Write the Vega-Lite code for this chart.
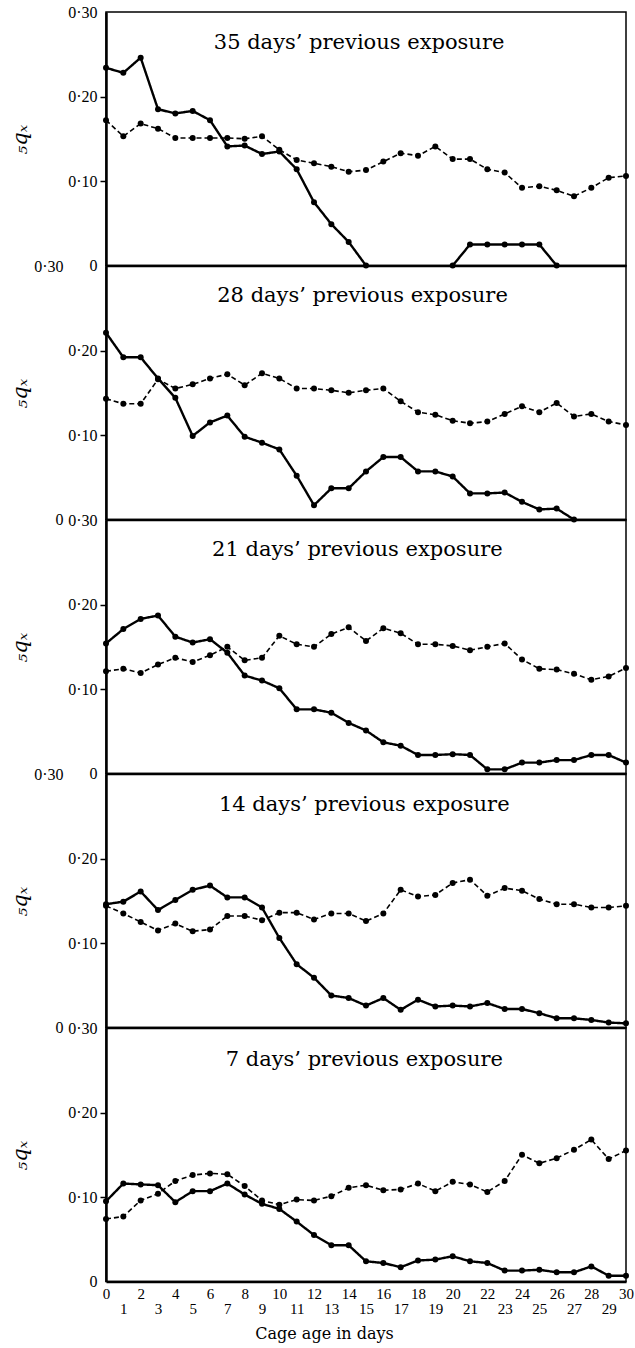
{
  "$schema": "https://vega.github.io/schema/vega-lite/v6.json",
  "background": "white",
  "padding": {"left": 8, "top": 3, "right": 0, "bottom": 0},
  "spacing": 0,
  "bounds": "flush",
  "config": {
    "view": {"stroke": "black", "strokeWidth": 1.5},
    "axisY": {"grid": false, "domainColor": "black", "domainWidth": 2.5, "tickColor": "black", "tickWidth": 1.5, "tickSize": 6, "labelPadding": 3, "labelFont": "Liberation Serif", "labelFontSize": 16, "labelColor": "black", "labelFlush": false, "labelOverlap": false, "labelBound": false, "titleFont": "DejaVu Serif", "titleFontStyle": "italic", "titleFontWeight": "normal", "titleFontSize": 21, "titleColor": "black", "titleX": -76, "titleY": 127},
    "axisX": {"grid": false, "domainColor": "black", "domainWidth": 2, "ticks": false, "labelFont": "Liberation Serif", "labelFontSize": 15, "labelColor": "black", "labelFlush": false, "labelOverlap": false, "labelBound": false, "labelAngle": 0}
  },
  "datasets": {
    "q": [
      {"p":35,"d":0,"solid":0.234,"dashed":0.172},{"p":35,"d":1,"solid":0.228,"dashed":0.153},{"p":35,"d":2,"solid":0.246,"dashed":0.168},{"p":35,"d":3,"solid":0.185,"dashed":0.162},{"p":35,"d":4,"solid":0.180,"dashed":0.151},{"p":35,"d":5,"solid":0.183,"dashed":0.151},{"p":35,"d":6,"solid":0.172,"dashed":0.151},{"p":35,"d":7,"solid":0.141,"dashed":0.151},{"p":35,"d":8,"solid":0.142,"dashed":0.150},{"p":35,"d":9,"solid":0.132,"dashed":0.153},{"p":35,"d":10,"solid":0.135,"dashed":0.137},{"p":35,"d":11,"solid":0.114,"dashed":0.125},{"p":35,"d":12,"solid":0.075,"dashed":0.121},{"p":35,"d":13,"solid":0.049,"dashed":0.117},{"p":35,"d":14,"solid":0.028,"dashed":0.111},{"p":35,"d":15,"solid":0,"dashed":0.113},{"p":35,"d":16,"solid":null,"dashed":0.123},{"p":35,"d":17,"solid":null,"dashed":0.133},{"p":35,"d":18,"solid":null,"dashed":0.130},{"p":35,"d":19,"solid":null,"dashed":0.141},{"p":35,"d":20,"solid":0,"dashed":0.126},{"p":35,"d":21,"solid":0.025,"dashed":0.126},{"p":35,"d":22,"solid":0.025,"dashed":0.114},{"p":35,"d":23,"solid":0.025,"dashed":0.110},{"p":35,"d":24,"solid":0.025,"dashed":0.092},{"p":35,"d":25,"solid":0.025,"dashed":0.094},{"p":35,"d":26,"solid":0,"dashed":0.089},{"p":35,"d":27,"solid":null,"dashed":0.082},{"p":35,"d":28,"solid":null,"dashed":0.092},{"p":35,"d":29,"solid":null,"dashed":0.104},{"p":35,"d":30,"solid":null,"dashed":0.106},
      {"p":28,"d":0,"solid":0.221,"dashed":0.143},{"p":28,"d":1,"solid":0.192,"dashed":0.137},{"p":28,"d":2,"solid":0.192,"dashed":0.137},{"p":28,"d":3,"solid":0.167,"dashed":0.166},{"p":28,"d":4,"solid":0.144,"dashed":0.155},{"p":28,"d":5,"solid":0.099,"dashed":0.160},{"p":28,"d":6,"solid":0.115,"dashed":0.167},{"p":28,"d":7,"solid":0.123,"dashed":0.172},{"p":28,"d":8,"solid":0.098,"dashed":0.159},{"p":28,"d":9,"solid":0.091,"dashed":0.173},{"p":28,"d":10,"solid":0.083,"dashed":0.167},{"p":28,"d":11,"solid":0.052,"dashed":0.155},{"p":28,"d":12,"solid":0.017,"dashed":0.155},{"p":28,"d":13,"solid":0.037,"dashed":0.153},{"p":28,"d":14,"solid":0.037,"dashed":0.150},{"p":28,"d":15,"solid":0.057,"dashed":0.153},{"p":28,"d":16,"solid":0.074,"dashed":0.155},{"p":28,"d":17,"solid":0.074,"dashed":0.140},{"p":28,"d":18,"solid":0.057,"dashed":0.127},{"p":28,"d":19,"solid":0.057,"dashed":0.124},{"p":28,"d":20,"solid":0.051,"dashed":0.117},{"p":28,"d":21,"solid":0.031,"dashed":0.114},{"p":28,"d":22,"solid":0.031,"dashed":0.116},{"p":28,"d":23,"solid":0.032,"dashed":0.125},{"p":28,"d":24,"solid":0.021,"dashed":0.134},{"p":28,"d":25,"solid":0.012,"dashed":0.127},{"p":28,"d":26,"solid":0.013,"dashed":0.138},{"p":28,"d":27,"solid":0,"dashed":0.122},{"p":28,"d":28,"solid":null,"dashed":0.125},{"p":28,"d":29,"solid":null,"dashed":0.116},{"p":28,"d":30,"solid":null,"dashed":0.112},
      {"p":21,"d":0,"solid":0.154,"dashed":0.121},{"p":21,"d":1,"solid":0.171,"dashed":0.124},{"p":21,"d":2,"solid":0.183,"dashed":0.119},{"p":21,"d":3,"solid":0.187,"dashed":0.129},{"p":21,"d":4,"solid":0.162,"dashed":0.137},{"p":21,"d":5,"solid":0.155,"dashed":0.132},{"p":21,"d":6,"solid":0.159,"dashed":0.140},{"p":21,"d":7,"solid":0.143,"dashed":0.150},{"p":21,"d":8,"solid":0.116,"dashed":0.134},{"p":21,"d":9,"solid":0.110,"dashed":0.137},{"p":21,"d":10,"solid":0.101,"dashed":0.163},{"p":21,"d":11,"solid":0.076,"dashed":0.153},{"p":21,"d":12,"solid":0.076,"dashed":0.150},{"p":21,"d":13,"solid":0.072,"dashed":0.165},{"p":21,"d":14,"solid":0.060,"dashed":0.173},{"p":21,"d":15,"solid":0.051,"dashed":0.157},{"p":21,"d":16,"solid":0.037,"dashed":0.172},{"p":21,"d":17,"solid":0.033,"dashed":0.166},{"p":21,"d":18,"solid":0.022,"dashed":0.153},{"p":21,"d":19,"solid":0.022,"dashed":0.153},{"p":21,"d":20,"solid":0.023,"dashed":0.151},{"p":21,"d":21,"solid":0.022,"dashed":0.146},{"p":21,"d":22,"solid":0.005,"dashed":0.150},{"p":21,"d":23,"solid":0.005,"dashed":0.154},{"p":21,"d":24,"solid":0.013,"dashed":0.135},{"p":21,"d":25,"solid":0.013,"dashed":0.124},{"p":21,"d":26,"solid":0.016,"dashed":0.123},{"p":21,"d":27,"solid":0.016,"dashed":0.118},{"p":21,"d":28,"solid":0.022,"dashed":0.111},{"p":21,"d":29,"solid":0.022,"dashed":0.115},{"p":21,"d":30,"solid":0.013,"dashed":0.125},
      {"p":14,"d":0,"solid":0.146,"dashed":0.144},{"p":14,"d":1,"solid":0.149,"dashed":0.135},{"p":14,"d":2,"solid":0.161,"dashed":0.125},{"p":14,"d":3,"solid":0.139,"dashed":0.115},{"p":14,"d":4,"solid":0.151,"dashed":0.123},{"p":14,"d":5,"solid":0.163,"dashed":0.114},{"p":14,"d":6,"solid":0.168,"dashed":0.116},{"p":14,"d":7,"solid":0.154,"dashed":0.132},{"p":14,"d":8,"solid":0.154,"dashed":0.132},{"p":14,"d":9,"solid":0.142,"dashed":0.127},{"p":14,"d":10,"solid":0.106,"dashed":0.136},{"p":14,"d":11,"solid":0.075,"dashed":0.136},{"p":14,"d":12,"solid":0.059,"dashed":0.128},{"p":14,"d":13,"solid":0.038,"dashed":0.135},{"p":14,"d":14,"solid":0.035,"dashed":0.135},{"p":14,"d":15,"solid":0.026,"dashed":0.126},{"p":14,"d":16,"solid":0.035,"dashed":0.135},{"p":14,"d":17,"solid":0.021,"dashed":0.163},{"p":14,"d":18,"solid":0.033,"dashed":0.155},{"p":14,"d":19,"solid":0.025,"dashed":0.157},{"p":14,"d":20,"solid":0.026,"dashed":0.171},{"p":14,"d":21,"solid":0.025,"dashed":0.175},{"p":14,"d":22,"solid":0.029,"dashed":0.156},{"p":14,"d":23,"solid":0.022,"dashed":0.165},{"p":14,"d":24,"solid":0.022,"dashed":0.162},{"p":14,"d":25,"solid":0.017,"dashed":0.152},{"p":14,"d":26,"solid":0.011,"dashed":0.146},{"p":14,"d":27,"solid":0.011,"dashed":0.146},{"p":14,"d":28,"solid":0.009,"dashed":0.142},{"p":14,"d":29,"solid":0.006,"dashed":0.142},{"p":14,"d":30,"solid":0.005,"dashed":0.144},
      {"p":7,"d":0,"solid":0.095,"dashed":0.074},{"p":7,"d":1,"solid":0.116,"dashed":0.077},{"p":7,"d":2,"solid":0.115,"dashed":0.096},{"p":7,"d":3,"solid":0.114,"dashed":0.104},{"p":7,"d":4,"solid":0.094,"dashed":0.119},{"p":7,"d":5,"solid":0.107,"dashed":0.126},{"p":7,"d":6,"solid":0.107,"dashed":0.128},{"p":7,"d":7,"solid":0.116,"dashed":0.127},{"p":7,"d":8,"solid":0.103,"dashed":0.113},{"p":7,"d":9,"solid":0.092,"dashed":0.096},{"p":7,"d":10,"solid":0.086,"dashed":0.091},{"p":7,"d":11,"solid":0.071,"dashed":0.097},{"p":7,"d":12,"solid":0.055,"dashed":0.096},{"p":7,"d":13,"solid":0.043,"dashed":0.101},{"p":7,"d":14,"solid":0.043,"dashed":0.111},{"p":7,"d":15,"solid":0.024,"dashed":0.114},{"p":7,"d":16,"solid":0.022,"dashed":0.108},{"p":7,"d":17,"solid":0.017,"dashed":0.109},{"p":7,"d":18,"solid":0.025,"dashed":0.116},{"p":7,"d":19,"solid":0.026,"dashed":0.107},{"p":7,"d":20,"solid":0.030,"dashed":0.118},{"p":7,"d":21,"solid":0.024,"dashed":0.115},{"p":7,"d":22,"solid":0.022,"dashed":0.106},{"p":7,"d":23,"solid":0.013,"dashed":0.119},{"p":7,"d":24,"solid":0.013,"dashed":0.150},{"p":7,"d":25,"solid":0.014,"dashed":0.140},{"p":7,"d":26,"solid":0.011,"dashed":0.146},{"p":7,"d":27,"solid":0.011,"dashed":0.156},{"p":7,"d":28,"solid":0.018,"dashed":0.168},{"p":7,"d":29,"solid":0.007,"dashed":0.145},{"p":7,"d":30,"solid":0.007,"dashed":0.155}
    ]
  },
  "vconcat": [
    {
      "width": 520, "height": 253.6,
      "layer": [
        {
          "data": {"name": "q"},
          "transform": [{"filter": "datum.p == 35"}, {"fold": ["solid", "dashed"], "as": ["series", "q"]}],
          "mark": {"type": "line", "color": "black", "point": {"filled": true, "size": 36, "color": "black", "opacity": 1}},
          "encoding": {
            "x": {"field": "d", "type": "quantitative", "scale": {"domain": [0, 30], "nice": false}, "axis": {"labels": false, "title": null, "domainWidth": 2.5}},
            "y": {"field": "q", "type": "quantitative", "scale": {"domain": [0, 0.3], "nice": false}, "axis": {"values": [0, 0.1, 0.2, 0.3], "title": "₅qₓ", "tickOpacity": {"condition": {"test": "datum.value == 0 || datum.value == 0.3", "value": 0}, "value": 1}, "labelExpr": "datum.value == 0 ? '0' : replace(format(datum.value, '.2f'), '.', '·')"}},
            "strokeDash": {"field": "series", "type": "nominal", "scale": {"domain": ["solid", "dashed"], "range": [[1, 0], [5, 3]]}, "legend": null},
            "strokeWidth": {"field": "series", "type": "nominal", "scale": {"domain": ["solid", "dashed"], "range": [2.4, 1.6]}, "legend": null}
          }
        },
        {
          "data": {"values": [{"label": "35 days’ previous exposure"}]},
          "mark": {"type": "text", "font": "DejaVu Serif", "fontSize": 21, "align": "center", "baseline": "alphabetic", "color": "black"},
          "encoding": {"x": {"datum": 14.6}, "y": {"datum": 0.256}, "text": {"field": "label"}}
        }
      ]
    },
    {
      "width": 520, "height": 253.6,
      "layer": [
        {
          "data": {"name": "q"},
          "transform": [{"filter": "datum.p == 28"}, {"fold": ["solid", "dashed"], "as": ["series", "q"]}],
          "mark": {"type": "line", "color": "black", "point": {"filled": true, "size": 36, "color": "black", "opacity": 1}},
          "encoding": {
            "x": {"field": "d", "type": "quantitative", "scale": {"domain": [0, 30], "nice": false}, "axis": {"labels": false, "title": null, "domainWidth": 2.5}},
            "y": {"field": "q", "type": "quantitative", "scale": {"domain": [0, 0.3], "nice": false}, "axis": {"values": [0, 0.1, 0.2, 0.3], "title": "₅qₓ", "tickOpacity": {"condition": {"test": "datum.value == 0 || datum.value == 0.3", "value": 0}, "value": 1}, "labelPadding": {"condition": {"test": "datum.value == 0 || datum.value == 0.3", "value": 37}, "value": 3}, "labelExpr": "datum.value == 0 ? '0' : replace(format(datum.value, '.2f'), '.', '·')"}},
            "strokeDash": {"field": "series", "type": "nominal", "scale": {"domain": ["solid", "dashed"], "range": [[1, 0], [5, 3]]}, "legend": null},
            "strokeWidth": {"field": "series", "type": "nominal", "scale": {"domain": ["solid", "dashed"], "range": [2.4, 1.6]}, "legend": null}
          }
        },
        {
          "data": {"values": [{"label": "28 days’ previous exposure"}]},
          "mark": {"type": "text", "font": "DejaVu Serif", "fontSize": 21, "align": "center", "baseline": "alphabetic", "color": "black"},
          "encoding": {"x": {"datum": 14.8}, "y": {"datum": 0.258}, "text": {"field": "label"}}
        }
      ]
    },
    {
      "width": 520, "height": 253.6,
      "layer": [
        {
          "data": {"name": "q"},
          "transform": [{"filter": "datum.p == 21"}, {"fold": ["solid", "dashed"], "as": ["series", "q"]}],
          "mark": {"type": "line", "color": "black", "point": {"filled": true, "size": 36, "color": "black", "opacity": 1}},
          "encoding": {
            "x": {"field": "d", "type": "quantitative", "scale": {"domain": [0, 30], "nice": false}, "axis": {"labels": false, "title": null, "domainWidth": 2.5}},
            "y": {"field": "q", "type": "quantitative", "scale": {"domain": [0, 0.3], "nice": false}, "axis": {"values": [0, 0.1, 0.2, 0.3], "title": "₅qₓ", "tickOpacity": {"condition": {"test": "datum.value == 0 || datum.value == 0.3", "value": 0}, "value": 1}, "labelExpr": "datum.value == 0 ? '0' : replace(format(datum.value, '.2f'), '.', '·')"}},
            "strokeDash": {"field": "series", "type": "nominal", "scale": {"domain": ["solid", "dashed"], "range": [[1, 0], [5, 3]]}, "legend": null},
            "strokeWidth": {"field": "series", "type": "nominal", "scale": {"domain": ["solid", "dashed"], "range": [2.4, 1.6]}, "legend": null}
          }
        },
        {
          "data": {"values": [{"label": "21 days’ previous exposure"}]},
          "mark": {"type": "text", "font": "DejaVu Serif", "fontSize": 21, "align": "center", "baseline": "alphabetic", "color": "black"},
          "encoding": {"x": {"datum": 14.5}, "y": {"datum": 0.257}, "text": {"field": "label"}}
        }
      ]
    },
    {
      "width": 520, "height": 253.6,
      "layer": [
        {
          "data": {"name": "q"},
          "transform": [{"filter": "datum.p == 14"}, {"fold": ["solid", "dashed"], "as": ["series", "q"]}],
          "mark": {"type": "line", "color": "black", "point": {"filled": true, "size": 36, "color": "black", "opacity": 1}},
          "encoding": {
            "x": {"field": "d", "type": "quantitative", "scale": {"domain": [0, 30], "nice": false}, "axis": {"labels": false, "title": null, "domainWidth": 2.5}},
            "y": {"field": "q", "type": "quantitative", "scale": {"domain": [0, 0.3], "nice": false}, "axis": {"values": [0, 0.1, 0.2, 0.3], "title": "₅qₓ", "tickOpacity": {"condition": {"test": "datum.value == 0 || datum.value == 0.3", "value": 0}, "value": 1}, "labelPadding": {"condition": {"test": "datum.value == 0 || datum.value == 0.3", "value": 37}, "value": 3}, "labelExpr": "datum.value == 0 ? '0' : replace(format(datum.value, '.2f'), '.', '·')"}},
            "strokeDash": {"field": "series", "type": "nominal", "scale": {"domain": ["solid", "dashed"], "range": [[1, 0], [5, 3]]}, "legend": null},
            "strokeWidth": {"field": "series", "type": "nominal", "scale": {"domain": ["solid", "dashed"], "range": [2.4, 1.6]}, "legend": null}
          }
        },
        {
          "data": {"values": [{"label": "14 days’ previous exposure"}]},
          "mark": {"type": "text", "font": "DejaVu Serif", "fontSize": 21, "align": "center", "baseline": "alphabetic", "color": "black"},
          "encoding": {"x": {"datum": 14.9}, "y": {"datum": 0.256}, "text": {"field": "label"}}
        }
      ]
    },
    {
      "width": 520, "height": 253.6,
      "layer": [
        {
          "data": {"name": "q"},
          "transform": [{"filter": "datum.p == 7"}, {"fold": ["solid", "dashed"], "as": ["series", "q"]}],
          "mark": {"type": "line", "color": "black", "point": {"filled": true, "size": 36, "color": "black", "opacity": 1}},
          "encoding": {
            "x": {"field": "d", "type": "quantitative", "scale": {"domain": [0, 30], "nice": false}, "axis": {"values": [0,1,2,3,4,5,6,7,8,9,10,11,12,13,14,15,16,17,18,19,20,21,22,23,24,25,26,27,28,29,30], "tickCount": 31, "labelOverlap": false, "labelFlush": false, "labelBound": false, "labelPadding": 5, "labelLineHeight": 15, "labelExpr": "datum.value % 2 == 1 ? ['', datum.label] : datum.label", "title": "Cage age in days", "titleFont": "DejaVu Serif", "titleFontSize": 16, "titleFontWeight": "normal", "titleColor": "black", "titleX": 218, "titleY": 44, "titleBaseline": "top", "domainWidth": 2.5}},
            "y": {"field": "q", "type": "quantitative", "scale": {"domain": [0, 0.3], "nice": false}, "axis": {"values": [0, 0.1, 0.2, 0.3], "title": "₅qₓ", "tickOpacity": {"condition": {"test": "datum.value == 0 || datum.value == 0.3", "value": 0}, "value": 1}, "labelExpr": "datum.value == 0 ? '0' : replace(format(datum.value, '.2f'), '.', '·')"}},
            "strokeDash": {"field": "series", "type": "nominal", "scale": {"domain": ["solid", "dashed"], "range": [[1, 0], [5, 3]]}, "legend": null},
            "strokeWidth": {"field": "series", "type": "nominal", "scale": {"domain": ["solid", "dashed"], "range": [2.4, 1.6]}, "legend": null}
          }
        },
        {
          "data": {"values": [{"label": "7 days’ previous exposure"}]},
          "mark": {"type": "text", "font": "DejaVu Serif", "fontSize": 21, "align": "center", "baseline": "alphabetic", "color": "black"},
          "encoding": {"x": {"datum": 14.9}, "y": {"datum": 0.255}, "text": {"field": "label"}}
        }
      ]
    }
  ]
}
